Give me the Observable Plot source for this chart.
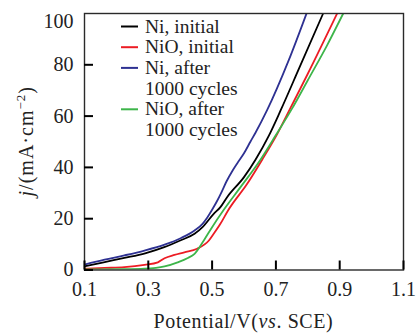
<!DOCTYPE html>
<html><head><meta charset="utf-8">
<script src="https://cdn.jsdelivr.net/npm/d3@7"></script>
<script src="https://cdn.jsdelivr.net/npm/@observablehq/plot@0.6"></script>
<style>body{margin:0;background:#fff}</style>
</head><body><div id="chart"></div>
<script>
// Series names (legend), colours
const seriesNames = ["Ni, initial", "NiO, initial", "Ni, after 1000 cycles", "NiO, after 1000 cycles"];
const legendLines = [["Ni, initial"], ["NiO, initial"], ["Ni, after", "1000 cycles"], ["NiO, after", "1000 cycles"]];
const seriesColors = ["#000000", "#ec1c24", "#2e3192", "#3db54a"];

// Potential (V vs. SCE) and current density j (mA·cm^-2)
const niInitialV = [0.10, 0.16, 0.225, 0.29, 0.35, 0.40, 0.445, 0.47, 0.505, 0.526, 0.547, 0.60, 0.636, 0.678, 0.714, 0.774, 0.848];
const niInitialJ = [1.4, 3.0, 4.7, 6.5, 8.9, 11.5, 14.1, 16.7, 21.9, 24.5, 28.4, 36.2, 43.0, 52.4, 62.0, 79.0, 100];

const nioInitialV = [0.10, 0.163, 0.225, 0.288, 0.33, 0.351, 0.382, 0.413, 0.453, 0.49, 0.505, 0.526, 0.55, 0.61, 0.657, 0.704, 0.745, 0.80, 0.892];
const nioInitialJ = [0.5, 0.8, 1.1, 2.0, 3.0, 4.6, 5.9, 6.9, 8.3, 11.5, 14.1, 18.0, 23.2, 33.6, 43.0, 53.0, 63.0, 76.5, 100];

const niAfterV = [0.10, 0.163, 0.225, 0.288, 0.351, 0.403, 0.445, 0.47, 0.485, 0.50, 0.516, 0.53, 0.545, 0.563, 0.58, 0.60, 0.62, 0.636, 0.672, 0.74, 0.796];
const niAfterJ = [2.1, 4.0, 5.7, 7.6, 9.9, 12.5, 15.4, 18.0, 20.5, 23.5, 27.0, 30.5, 34.5, 38.5, 41.8, 45.5, 50.0, 53.5, 62.2, 81.7, 100];

const nioAfterV = [0.10, 0.225, 0.288, 0.351, 0.392, 0.424, 0.445, 0.474, 0.50, 0.535, 0.589, 0.65, 0.699, 0.751, 0.80, 0.86, 0.911];
const nioAfterJ = [0.2, 0.3, 0.5, 1.4, 3.0, 4.7, 6.3, 11.5, 16.7, 23.2, 32.3, 42.7, 52.4, 63.0, 74.0, 87.5, 100];

const xTicks = [0.1, 0.3, 0.5, 0.7, 0.9, 1.1];
const yTicks = [0, 20, 40, 60, 80];
const yTopTick = [100];

const seriesV = [niInitialV, nioInitialV, niAfterV, nioAfterV];
const seriesJ = [niInitialJ, nioInitialJ, niAfterJ, nioAfterJ];
const rows = [];
seriesNames.forEach((name, i) => {
  seriesV[i].forEach((v, k) => rows.push({series: name, V: v, j: seriesJ[i][k]}));
});

const W = 418, H = 333, mL = 84, mR = 15, mT = 13, mB = 63.5;
const plotW = W - mL - mR, plotH = H - mT - mB, tickLen = 9;
const font = "Liberation Serif, Times New Roman, serif";

const plot = Plot.plot({
  width: W, height: H,
  marginLeft: mL, marginRight: mR, marginTop: mT, marginBottom: mB,
  style: {fontFamily: font, fontSize: "20px", color: "#222", background: "#fff"},
  x: {domain: [0.1, 1.1]},
  y: {domain: [0, 100]},
  color: {domain: seriesNames, range: seriesColors},
  marks: [
    Plot.line(rows, {x: "V", y: "j", z: "series", stroke: "series", strokeWidth: 1.8, curve: "monotone-x", clip: true}),
    Plot.frame({stroke: "#2a2a2a", strokeWidth: 1.4}),
    // inward tick marks
    Plot.tickX(xTicks, {x: d => d, insetTop: plotH - tickLen, stroke: "#000", strokeWidth: 2}),
    Plot.tickY(yTicks, {y: d => d, insetRight: plotW - tickLen, stroke: "#000", strokeWidth: 2}),
    // tick labels
    Plot.axisX(xTicks, {tickSize: 0, tickPadding: 11.5, tickFormat: d3.format(".1f"), label: null}),
    Plot.axisY(yTicks, {tickSize: 0, tickPadding: 11, label: null}),
    Plot.axisY(yTopTick, {tickSize: 0, tickPadding: 11, dy: 8, label: null})
  ]
});
document.getElementById("chart").appendChild(plot);

const svg = d3.select(plot);

// Legend
let row = 0;
const rowH = 20.7, ly0 = 26.5;
legendLines.forEach((lines, i) => {
  const cy = ly0 + row * rowH;
  svg.append("line").attr("x1", 121).attr("x2", 138).attr("y1", cy).attr("y2", cy)
    .attr("stroke", seriesColors[i]).attr("stroke-width", 2);
  lines.forEach((t, k) => {
    svg.append("text").attr("x", 145).attr("y", ly0 + (row + k) * rowH + 6)
      .attr("text-anchor", "start")
      .attr("font-family", font).attr("font-size", 19.5).attr("fill", "#222").text(t);
  });
  row += lines.length;
});

// X axis label
const xl = svg.append("text").attr("x", mL + plotW / 2).attr("y", 328)
  .attr("text-anchor", "middle").attr("letter-spacing", 0.6)
  .attr("font-family", font).attr("font-size", 20).attr("fill", "#222");
xl.append("tspan").text("Potential/V(");
xl.append("tspan").attr("font-style", "italic").text("vs");
xl.append("tspan").text(". SCE)");

// Y axis label
const yl = svg.append("text").attr("transform", `translate(33,${mT + plotH / 2}) rotate(-90)`)
  .attr("text-anchor", "middle").attr("letter-spacing", 1)
  .attr("font-family", font).attr("font-size", 20).attr("fill", "#222");
yl.append("tspan").attr("font-style", "italic").text("j");
yl.append("tspan").text("/(mA·cm");
yl.append("tspan").attr("font-size", 13).attr("dy", -8).text("−2");
yl.append("tspan").attr("dy", 8).text(")");
</script>
</body></html>
